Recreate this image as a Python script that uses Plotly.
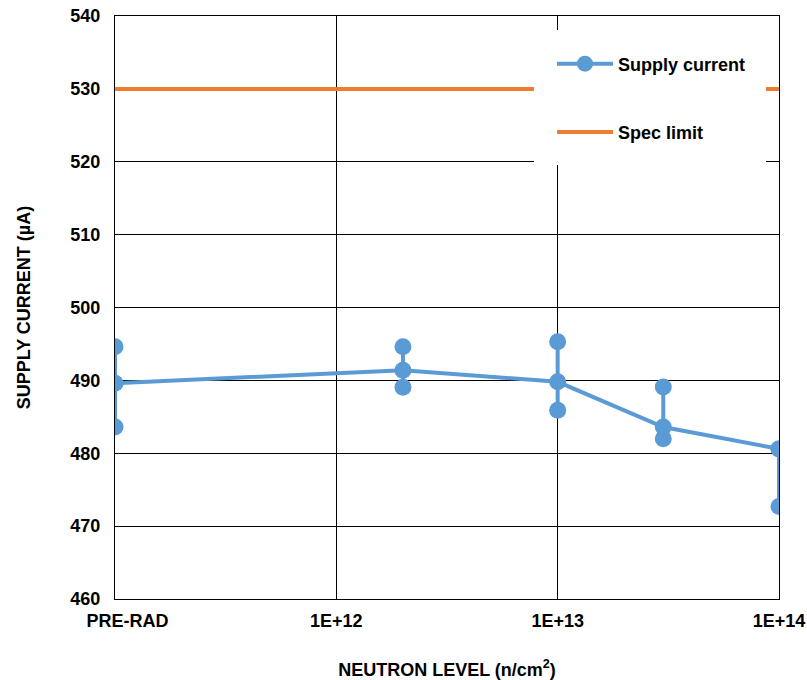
import plotly.graph_objects as go

# Neutron levels (PRE-RAD placed at 1E+11 on the log axis)
levels = [1e11, 2e12, 1e13, 3e13, 1e14]
i_max = [494.6, 494.6, 495.3, 489.1, 480.6]
i_typ = [489.6, 491.4, 489.8, 483.6, 480.6]
i_min = [483.6, 489.05, 485.9, 482.0, 472.7]
spec_limit = 530
spec_x = [1e11, 1e14]

tick_vals = [1e11, 1e12, 1e13, 1e14]
tick_text = ["\u00a0" * 5 + "PRE-RAD", "1E+12", "1E+13", "1E+14"]

BLUE = "#5B9BD5"
ORANGE = "#ED7D31"
FONT = "Liberation Sans, Arial, sans-serif"

# range bars (min..max) at each level
rx, ry = [], []
for x, lo, hi in zip(levels, i_min, i_max):
    rx += [x, x, None]
    ry += [hi, lo, None]

fig = go.Figure()
fig.add_trace(go.Scatter(x=rx, y=ry, mode="lines+markers", showlegend=False,
                         line=dict(color=BLUE, width=4),
                         marker=dict(color=BLUE, size=17), hoverinfo="skip"))
fig.add_trace(go.Scatter(x=levels, y=i_typ, mode="lines+markers", name="Supply current",
                         legendgroup="a",
                         line=dict(color=BLUE, width=4),
                         marker=dict(color=BLUE, size=17)))
fig.add_trace(go.Scatter(x=spec_x, y=[spec_limit] * 2, mode="lines", name="Spec limit",
                         legendgroup="b",
                         line=dict(color=ORANGE, width=4)))

# white legend background
fig.add_shape(type="rect", xref="paper", yref="paper", layer="above",
              x0=(534 - 115) / 664, x1=(766 - 115) / 664,
              y0=(599 - 165) / 583, y1=(599 - 30) / 583,
              fillcolor="white", line=dict(width=0))

fig.update_layout(
    width=807, height=680,
    margin=dict(l=115, r=28, t=16, b=81, autoexpand=False),
    paper_bgcolor="white", plot_bgcolor="white",
    font=dict(family=FONT, size=18, color="black", weight="bold"),
    showlegend=True,
    legend=dict(x=(552 - 115) / 664, y=(599 - 45.5) / 583, xanchor="left", yanchor="top",
                bgcolor="rgba(0,0,0,0)", font=dict(size=18, weight="bold"),
                tracegroupgap=42, traceorder="grouped", itemwidth=56),
    xaxis=dict(type="log", range=[11, 14], tickvals=tick_vals, ticktext=tick_text,
               automargin=False, ticklabeloverflow="allow",
               showgrid=True, gridcolor="black", gridwidth=1.3,
               showline=True, linecolor="black", linewidth=1.3, mirror=True,
               ticks="", ticklabelstandoff=5,
               tickfont=dict(size=18, weight="bold"),
               title=dict(text="NEUTRON LEVEL (n/cm<sup>2</sup>)", standoff=35,
                          font=dict(size=18, weight="bold"))),
    yaxis=dict(range=[460, 540], dtick=10, tick0=460,
               automargin=False, ticklabeloverflow="allow",
               showgrid=True, gridcolor="black", gridwidth=1.3,
               showline=True, linecolor="black", linewidth=1.3, mirror=True,
               ticks="", ticklabelstandoff=10, zeroline=False,
               tickfont=dict(size=18, weight="bold"),
               title=dict(text="SUPPLY CURRENT (µA)", standoff=34,
                          font=dict(size=18, weight="bold"))),
)

# remove the default page margin so the figure fills the window exactly
fig.write_html("out.html",
               config={"displayModeBar": False},
               post_script="document.body.style.margin='0';document.body.style.overflow='hidden';")
